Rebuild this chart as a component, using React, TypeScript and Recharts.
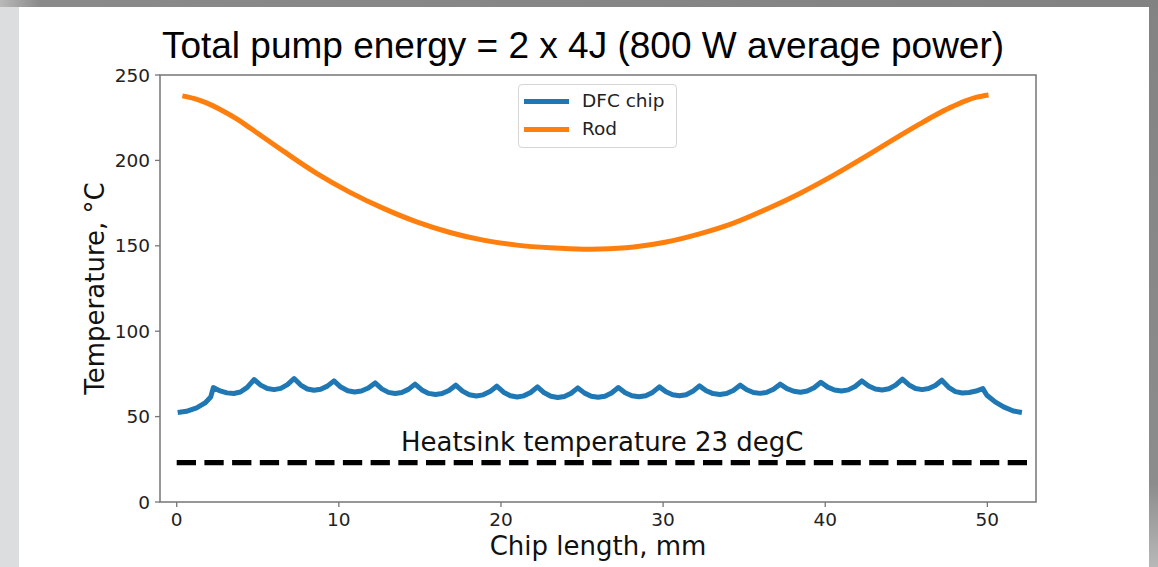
import React from 'react';
import { LineChart, Line, XAxis, YAxis, ReferenceLine, ReferenceArea, Legend, Label } from 'recharts';

// DFC chip temperature profile (scalloped, one cusp per pump spot)
const chipX = [
  0.06, 0.6, 1.23, 1.75, 2.1,
  2.26, 2.68, 3.1, 3.52, 3.93, 4.35,
  4.77, 5.18, 5.59, 6.01, 6.42, 6.83,
  7.24, 7.65, 8.06, 8.47, 8.88, 9.29,
  9.7, 10.12, 10.55, 10.97, 11.39, 11.82,
  12.24, 12.65, 13.06, 13.47, 13.88, 14.29,
  14.7, 15.12, 15.54, 15.96, 16.37, 16.79,
  17.21, 17.63, 18.05, 18.48, 18.9, 19.32,
  19.74, 20.16, 20.58, 21.0, 21.41, 21.83,
  22.25, 22.67, 23.08, 23.5, 23.91, 24.33,
  24.74, 25.16, 25.57, 25.99, 26.41, 26.82,
  27.24, 27.66, 28.08, 28.51, 28.93, 29.35,
  29.77, 30.18, 30.59, 31.01, 31.42, 31.83,
  32.24, 32.66, 33.08, 33.5, 33.91, 34.33,
  34.75, 35.16, 35.57, 35.99, 36.4, 36.81,
  37.22, 37.64, 38.06, 38.48, 38.89, 39.31,
  39.73, 40.15, 40.57, 41.0, 41.42, 41.84,
  42.26, 42.68, 43.09, 43.51, 43.93, 44.34,
  44.76, 45.17, 45.57, 45.98, 46.38, 46.79,
  47.19, 47.61, 48.03, 48.46, 48.88, 49.3,
  49.72, 49.97, 50.48, 51.0, 51.6, 52.13,
];
const chipTemp = [
  52.4, 53.1, 55.1, 58.0, 61.5,
  67.0, 65.05, 63.89, 63.5, 64.41, 67.14,
  71.7, 68.42, 66.45, 65.8, 66.52, 68.69,
  72.3, 68.46, 66.17, 65.4, 66.01, 67.84,
  70.9, 67.29, 65.12, 64.4, 64.99, 66.75,
  69.7, 66.25, 64.19, 63.5, 64.11, 65.94,
  69.0, 65.61, 63.58, 62.9, 63.51, 65.34,
  68.4, 64.9, 62.8, 62.1, 62.73, 64.63,
  67.8, 64.3, 62.2, 61.5, 62.15, 64.12,
  67.4, 63.95, 61.89, 61.2, 61.82, 63.69,
  66.8, 63.74, 61.91, 61.3, 61.93, 63.83,
  67.0, 64.0, 62.2, 61.6, 62.24, 64.18,
  67.4, 64.51, 62.78, 62.2, 62.84, 64.78,
  68.0, 65.16, 63.47, 62.9, 63.51, 65.34,
  68.4, 65.73, 64.13, 63.6, 64.2, 66.0,
  69.0, 66.39, 64.82, 64.3, 64.94, 66.88,
  70.1, 67.26, 65.57, 65.0, 65.65, 67.62,
  70.9, 67.95, 66.19, 65.6, 66.3, 68.4,
  71.9, 68.51, 66.48, 65.8, 66.41, 68.24,
  71.3, 67.13, 64.63, 63.8, 64.09, 64.95,
  66.4, 62.5, 58.6, 55.7, 53.3, 52.4,
];

// Rod temperature profile
const rodX = [
  0.35, 1.1, 1.8, 2.8, 3.7, 4.6, 6.58, 8.63, 10.69, 12.75, 14.8, 16.86, 18.9, 20.97, 23.03, 25.1,
  26.1, 28.2, 30.2, 32.3, 34.3, 36.4, 38.4, 40.5, 42.6, 44.6, 45.7, 46.7, 47.7, 48.7, 49.35, 50.07,
];
const rodTemp = [
  237.8, 236.2, 233.8, 229.2, 224.3, 218.5, 205.4, 192.4, 181.3, 171.9, 164.0, 157.8, 153.3, 150.4, 148.8, 148.0,
  148.1, 149.3, 152.2, 157.1, 163.1, 171.5, 180.5, 191.2, 202.9, 214.5, 220.6, 226.0, 230.9, 235.0, 237.0, 238.3,
];

const heatsinkX = [0, 52.5];
const heatsinkTemp = 23;

const xTicks = [0, 10, 20, 30, 40, 50];
const yTicks = [0, 50, 100, 150, 200, 250];
const xDomain: [number, number] = [-1.03, 53.0];
const yDomain: [number, number] = [0, 250];

const series = [
  { name: 'DFC chip', color: '#1f77b4' },
  { name: 'Rod', color: '#ff7f0e' },
];

const chipData = chipX.map((x, i) => ({ x, t: chipTemp[i] }));
const rodData = rodX.map((x, i) => ({ x, t: rodTemp[i] }));

const mplFont = '"DejaVu Sans", sans-serif';
const spine = '#767676';
const tickStyle = { fontSize: 18.5, fill: '#222', fontFamily: mplFont };

function LegendBox() {
  return (
    <div style={{
      position: 'relative',
      width: 159,
      height: 64,
      boxSizing: 'border-box',
      border: '1px solid #d6d6d6',
      borderRadius: 4,
      background: 'rgba(255,255,255,0.85)',
      fontFamily: mplFont,
      fontSize: 18.5,
      color: '#222',
    }}>
      {series.map((s, i) => (
        <div key={s.name} style={{ position: 'absolute', left: 0, top: 4 + i * 28.3, height: 24, display: 'flex', alignItems: 'center' }}>
          <span style={{ display: 'inline-block', marginLeft: 5, width: 45, height: 5, background: s.color }} />
          <span style={{ marginLeft: 13, lineHeight: '24px' }}>{s.name}</span>
        </div>
      ))}
    </div>
  );
}

export default function App() {
  return (
    <div style={{ position: 'absolute', left: 0, top: 0, width: 1158, height: 567, overflow: 'hidden', background: 'linear-gradient(90deg, #b9b9b9 0px, #8a8a8a 40px, #828282 100%)' }}>
      <div style={{ position: 'absolute', left: 0, top: 7, width: 19, height: 560, background: '#dcdddf' }} />
      <div style={{ position: 'absolute', left: 1149, top: 7, width: 9, height: 560, background: 'linear-gradient(180deg, #838383 0%, #8c8c8c 85%, #b8b8b8 100%)' }} />
      <div style={{ position: 'absolute', left: 19, top: 7, width: 1130, height: 560, background: '#ffffff' }} />

      <div style={{
        position: 'absolute', left: 0, top: 27, width: 1166, textAlign: 'center',
        fontFamily: '"Liberation Sans", Arial, sans-serif', fontSize: 37, lineHeight: '37px', color: '#000',
      }}>
        Total pump energy = 2 x 4J (800 W average power)
      </div>

      <div style={{ position: 'absolute', left: 0, top: 0 }}>
        <LineChart width={1158} height={567} margin={{ top: 75, right: 122, bottom: 0, left: 0 }}>
          <XAxis
            type="number"
            dataKey="x"
            domain={xDomain}
            ticks={xTicks}
            allowDataOverflow
            height={65}
            tick={tickStyle}
            tickSize={5}
            tickMargin={6}
            tickLine={{ stroke: spine, strokeWidth: 1.3 }}
            axisLine={false}
          >
            <Label value="Chip length, mm" position="insideBottom" offset={12}
              style={{ fontSize: 26, fill: '#111', fontFamily: mplFont }} />
          </XAxis>
          <YAxis
            type="number"
            domain={yDomain}
            ticks={yTicks}
            allowDataOverflow
            width={160}
            tick={tickStyle}
            tickSize={5}
            tickMargin={5}
            tickLine={{ stroke: spine, strokeWidth: 1.3 }}
            axisLine={false}
          >
            <Label value="Temperature, °C" angle={-90} position="insideLeft" offset={95}
              style={{ fontSize: 26, fill: '#111', fontFamily: mplFont, textAnchor: 'middle' }} />
          </YAxis>
          <ReferenceArea
            x1={xDomain[0]} x2={xDomain[1]} y1={yDomain[0]} y2={yDomain[1]}
            fill="none" fillOpacity={0} stroke={spine} strokeWidth={1.5}
          />
          <ReferenceLine
            segment={[{ x: heatsinkX[0], y: heatsinkTemp }, { x: heatsinkX[1], y: heatsinkTemp }]}
            stroke="#000"
            strokeWidth={5.2}
            strokeDasharray="19.3 8.4"
          >
            <Label value="Heatsink temperature 23 degC" position="top" offset={12}
              style={{ fontSize: 26, fill: '#111', fontFamily: mplFont }} />
          </ReferenceLine>
          <Line
            data={chipData}
            dataKey="t"
            name={series[0].name}
            type="linear"
            stroke={series[0].color}
            strokeWidth={5}
            strokeLinejoin="round"
            dot={false}
            activeDot={false}
            isAnimationActive={false}
          />
          <Line
            data={rodData}
            dataKey="t"
            name={series[1].name}
            type="monotone"
            stroke={series[1].color}
            strokeWidth={5}
            dot={false}
            activeDot={false}
            isAnimationActive={false}
          />
          <Legend
            layout="vertical"
            align="center"
            verticalAlign="middle"
            content={() => <LegendBox />}
            wrapperStyle={{ left: 518, top: 84, width: 159, height: 64 }}
          />
        </LineChart>
      </div>
    </div>
  );
}
